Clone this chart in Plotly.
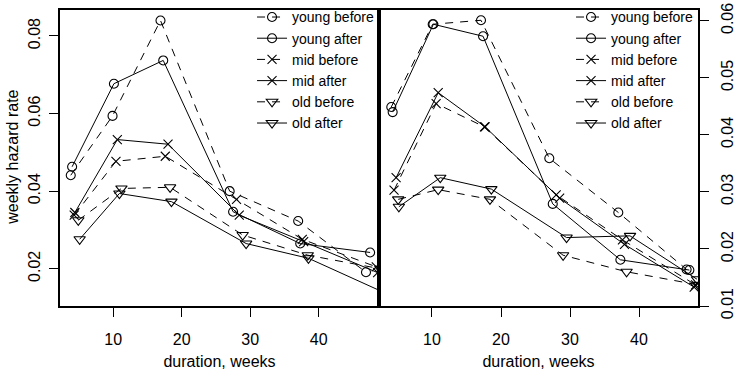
import plotly.graph_objects as go

series_names = ["young before", "young after", "mid before", "mid after", "old before", "old after"]

# Left panel
left_young_before_x = [3.8, 9.9, 16.9, 27.0, 37.0, 46.9]
left_young_before_y = [0.0441, 0.0594, 0.0840, 0.0400, 0.0323, 0.0191]
left_young_after_x = [4.0, 10.1, 17.3, 27.5, 37.3, 47.5]
left_young_after_y = [0.0463, 0.0677, 0.0737, 0.0347, 0.0265, 0.0242]
left_mid_before_x = [4.3, 10.4, 17.6, 28.0, 37.6, 48.4]
left_mid_before_y = [0.0338, 0.0477, 0.0490, 0.0379, 0.0276, 0.0205]
left_mid_after_x = [4.4, 10.6, 18.0, 28.4, 37.8, 48.6]
left_mid_after_y = [0.0345, 0.0533, 0.0521, 0.0338, 0.0270, 0.0190]
left_old_before_x = [4.9, 11.2, 18.3, 28.9, 38.4, 49.0]
left_old_before_y = [0.0325, 0.0407, 0.0410, 0.0287, 0.0235, 0.0200]
left_old_after_x = [5.1, 10.9, 18.5, 29.4, 38.5, 49.5]
left_old_after_y = [0.0276, 0.0394, 0.0373, 0.0265, 0.0227, 0.0139]

# Right panel
right_young_before_x = [4.1, 10.1, 17.1, 27.0, 37.0, 46.9]
right_young_before_y = [0.0449, 0.0594, 0.0601, 0.0359, 0.0264, 0.0164]
right_young_after_x = [4.3, 10.2, 17.4, 27.5, 37.3, 47.3]
right_young_after_y = [0.0440, 0.0594, 0.0573, 0.0279, 0.0181, 0.0163]
right_mid_before_x = [4.5, 10.6, 17.6, 28.0, 37.6, 48.2]
right_mid_before_y = [0.0303, 0.0455, 0.0414, 0.0295, 0.0216, 0.0137]
right_mid_after_x = [4.8, 10.9, 17.7, 28.5, 37.9, 48.0]
right_mid_after_y = [0.0325, 0.0474, 0.0414, 0.0289, 0.0208, 0.0133]
right_old_before_x = [5.1, 10.9, 18.4, 29.0, 38.2, 48.6]
right_old_before_y = [0.0287, 0.0304, 0.0287, 0.0189, 0.0160, 0.0137]
right_old_after_x = [5.2, 11.2, 18.6, 29.5, 38.7, 48.4]
right_old_after_y = [0.0274, 0.0325, 0.0305, 0.0220, 0.0223, 0.0147]

x_ticks = [10, 20, 30, 40]
left_y_ticks = [0.02, 0.04, 0.06, 0.08]
right_y_ticks = [0.01, 0.02, 0.03, 0.04, 0.05, 0.06]

symbols = ["circle-open", "circle-open", "x-thin-open", "x-thin-open",
           "triangle-down-open", "triangle-down-open"]
sizes = [9, 9, 9, 9, 10, 10]
dashes = ["8px,7px", "solid", "8px,7px", "solid", "8px,7px", "solid"]

left_data = [
    (left_young_before_x, left_young_before_y),
    (left_young_after_x, left_young_after_y),
    (left_mid_before_x, left_mid_before_y),
    (left_mid_after_x, left_mid_after_y),
    (left_old_before_x, left_old_before_y),
    (left_old_after_x, left_old_after_y),
]
right_data = [
    (right_young_before_x, right_young_before_y),
    (right_young_after_x, right_young_after_y),
    (right_mid_before_x, right_mid_before_y),
    (right_mid_after_x, right_mid_after_y),
    (right_old_before_x, right_old_before_y),
    (right_old_after_x, right_old_after_y),
]

FONT = "Liberation Sans, Arial, Helvetica, sans-serif"
fig = go.Figure()

for panel, data in enumerate([left_data, right_data]):
    for i, (xs, ys) in enumerate(data):
        fig.add_trace(go.Scatter(
            x=xs, y=ys, name=series_names[i], mode="lines+markers",
            xaxis="x" if panel == 0 else "x2",
            yaxis="y" if panel == 0 else "y2",
            legend="legend" if panel == 0 else "legend2",
            line=dict(color="black", width=1, dash=dashes[i]),
            marker=dict(symbol=symbols[i], size=sizes[i], color="black",
                        line=dict(color="black", width=1.1)),
        ))

axis_common = dict(
    showgrid=False, zeroline=False, showline=True, linecolor="black",
    linewidth=1.5, mirror=True, ticks="outside", ticklen=9, tickwidth=1,
    tickcolor="black", tickfont=dict(family=FONT, size=16, color="black"),
    automargin=False,
)

fig.update_layout(
    width=737, height=370,
    margin=dict(l=60, r=39, t=9.5, b=64, autoexpand=False),
    paper_bgcolor="white", plot_bgcolor="white",
    font=dict(family=FONT, color="black"),
    xaxis=dict(domain=[0, 0.5], range=[2.23, 48.8], tickvals=x_ticks,
               ticklabelstandoff=9, anchor="y",
               title=dict(text="duration, weeks", font=dict(size=16)),
               **axis_common),
    xaxis2=dict(domain=[0.5, 1], range=[2.32, 48.55], tickvals=x_ticks,
                ticklabelstandoff=9, anchor="y2",
                title=dict(text="duration, weeks", font=dict(size=16)),
                **axis_common),
    yaxis=dict(range=[0.0104, 0.0867], tickvals=left_y_ticks,
               ticktext=[f"{v:.2f}" for v in left_y_ticks],
               tickangle=-90, ticklabelstandoff=3, anchor="x",
               **axis_common),
    yaxis2=dict(range=[0.0100, 0.0619], tickvals=right_y_ticks,
                ticktext=[f"{v:.2f}" for v in right_y_ticks],
                tickangle=-90, ticklabelstandoff=5, anchor="x2", side="right",
                **axis_common),
    legend=dict(x=0.301, y=1.029, xanchor="left", yanchor="top",
                bgcolor="rgba(0,0,0,0)", borderwidth=0, tracegroupgap=0,
                font=dict(family=FONT, size=14, color="black")),
    legend2=dict(x=0.801, y=1.029, xanchor="left", yanchor="top",
                 bgcolor="rgba(0,0,0,0)", borderwidth=0, tracegroupgap=0,
                 font=dict(family=FONT, size=14, color="black")),
    annotations=[dict(text="weekly hazard rate", xref="paper", yref="paper",
                      x=-0.0737, y=0.504, xanchor="center", yanchor="middle",
                      textangle=-90, showarrow=False,
                      font=dict(family=FONT, size=16, color="black"))],
)

fig.write_html("out.html", config={"displayModeBar": False},
               post_script="document.body.style.margin='0';")
